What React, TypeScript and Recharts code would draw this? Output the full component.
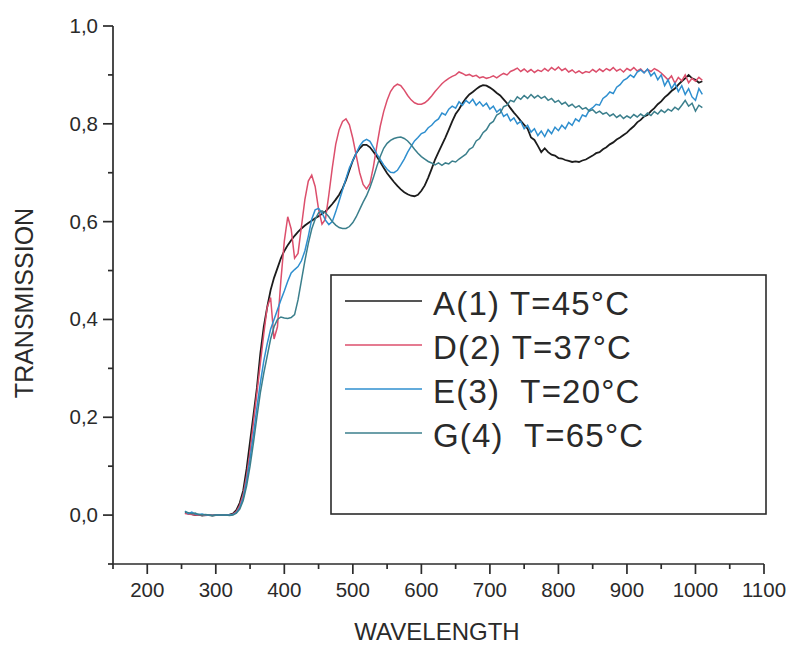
import { LineChart, Line, XAxis, YAxis, Legend } from "recharts"

// wavelength grid, 5 nm steps from 255 to 1010 nm
const wavelength = Array.from({ length: 152 }, (_, i) => 255 + i * 5)

const seriesNames = ["A(1) T=45°C", "D(2) T=37°C", "E(3)  T=20°C", "G(4)  T=65°C"]
const seriesColors = ["#1c1c1c", "#dc4f6c", "#2f8fcf", "#3b7f8c"]

const sampleA = [
  0.005, 0.003, 0.002, 0.0, 0.001, -0.001, 0.0, 0.0, -0.001, 0.0,
  0.0, 0.0, 0.0, 0.001, 0.003, 0.01, 0.025, 0.05, 0.095, 0.15,
  0.205, 0.26, 0.33, 0.385, 0.425, 0.46, 0.485, 0.505, 0.525, 0.54,
  0.552, 0.562, 0.571, 0.579, 0.586, 0.592, 0.597, 0.602, 0.607, 0.611,
  0.616, 0.621, 0.628, 0.636, 0.645, 0.655, 0.668, 0.685, 0.705, 0.725,
  0.74, 0.75, 0.757, 0.757, 0.752, 0.743, 0.733, 0.722, 0.71, 0.699,
  0.69, 0.681, 0.673, 0.666, 0.66, 0.656, 0.653, 0.652, 0.655, 0.663,
  0.674, 0.69, 0.708, 0.727, 0.742, 0.757, 0.772, 0.788, 0.805, 0.82,
  0.83, 0.842, 0.852, 0.86, 0.865, 0.871, 0.876, 0.879, 0.878, 0.874,
  0.869, 0.863, 0.858, 0.85, 0.842, 0.832, 0.823, 0.815, 0.806, 0.798,
  0.79, 0.772, 0.767, 0.755, 0.742, 0.75, 0.742, 0.737, 0.735, 0.73,
  0.729, 0.726, 0.724, 0.722, 0.723, 0.722, 0.725, 0.727, 0.731, 0.735,
  0.74, 0.742, 0.748, 0.752, 0.758, 0.762, 0.768, 0.772, 0.777, 0.782,
  0.789, 0.795, 0.803, 0.808, 0.815, 0.818, 0.826, 0.832, 0.84, 0.846,
  0.854, 0.86, 0.867, 0.872, 0.88, 0.887, 0.893, 0.9, 0.893, 0.89,
  0.884, 0.887,
]

const sampleD = [
  0.003, 0.002, 0.001, 0.0, 0.0, 0.0, -0.001, 0.0, 0.0, 0.0,
  0.0, 0.0, 0.0, 0.0, 0.002, 0.007, 0.02, 0.042, 0.08, 0.13,
  0.19, 0.25, 0.31, 0.37, 0.425, 0.445, 0.36, 0.385, 0.48, 0.56,
  0.61, 0.585, 0.525, 0.535, 0.59, 0.645, 0.683, 0.695, 0.672, 0.625,
  0.595, 0.605, 0.655, 0.71, 0.758, 0.788, 0.805, 0.81, 0.798, 0.77,
  0.735, 0.7, 0.676, 0.667, 0.678, 0.712, 0.755, 0.795, 0.825, 0.848,
  0.866, 0.876, 0.881, 0.878, 0.869, 0.858, 0.849, 0.843, 0.84, 0.84,
  0.843, 0.849, 0.857, 0.866, 0.874, 0.882, 0.888, 0.893, 0.897, 0.9,
  0.906, 0.903, 0.899, 0.901, 0.897, 0.899, 0.894, 0.896, 0.893, 0.895,
  0.898, 0.894, 0.899, 0.903, 0.9, 0.907, 0.91, 0.914, 0.907, 0.912,
  0.906, 0.911, 0.905, 0.91, 0.907, 0.913, 0.908, 0.915, 0.91, 0.916,
  0.909, 0.913, 0.906, 0.91, 0.904, 0.908, 0.903, 0.907, 0.905, 0.911,
  0.906, 0.912, 0.907, 0.913, 0.909, 0.915, 0.908, 0.912, 0.906, 0.913,
  0.909, 0.915, 0.908, 0.912, 0.905, 0.911, 0.907, 0.913, 0.909, 0.904,
  0.897, 0.89, 0.898, 0.883, 0.895, 0.888, 0.9, 0.884, 0.893, 0.887,
  0.895, 0.889,
]

const sampleE = [
  0.008, 0.003, 0.006, 0.002, 0.001, 0.002, 0.0, 0.0, -0.001, 0.0,
  0.0, 0.0, 0.0, 0.0, 0.001, 0.005, 0.015, 0.035, 0.07, 0.115,
  0.165, 0.22, 0.27, 0.315, 0.35, 0.38, 0.4, 0.42, 0.44, 0.458,
  0.478, 0.495, 0.502, 0.508, 0.52, 0.54, 0.57, 0.605, 0.624, 0.627,
  0.618, 0.603, 0.594, 0.6, 0.62, 0.642, 0.665, 0.688, 0.71, 0.725,
  0.74, 0.755, 0.764, 0.768, 0.764, 0.752, 0.738, 0.727, 0.716, 0.707,
  0.701, 0.7, 0.705, 0.716, 0.728, 0.742, 0.754, 0.765, 0.772, 0.78,
  0.783, 0.792, 0.797, 0.805, 0.81, 0.822, 0.818, 0.83, 0.836, 0.832,
  0.845, 0.838, 0.848, 0.842, 0.85, 0.838, 0.845, 0.836, 0.842, 0.83,
  0.836, 0.824, 0.83, 0.815, 0.82, 0.806, 0.812, 0.8, 0.805, 0.79,
  0.797, 0.783, 0.79, 0.776, 0.785, 0.774, 0.788, 0.78, 0.793, 0.786,
  0.797, 0.79, 0.803, 0.797, 0.81, 0.805, 0.818, 0.815, 0.828, 0.833,
  0.84, 0.838, 0.852, 0.857, 0.865, 0.862, 0.875, 0.88, 0.889, 0.893,
  0.9, 0.895, 0.906, 0.91, 0.904, 0.912, 0.898, 0.905, 0.89, 0.9,
  0.878, 0.89, 0.872, 0.883, 0.866, 0.878, 0.86, 0.872, 0.855, 0.848,
  0.872, 0.86,
]

const sampleG = [
  0.007, 0.005, 0.003, 0.004, 0.001, 0.0, 0.001, 0.0, -0.001, 0.0,
  0.0, 0.0, 0.0, -0.001, 0.0, 0.004, 0.012, 0.03, 0.06, 0.1,
  0.148, 0.2, 0.25, 0.29, 0.325, 0.36, 0.385, 0.4, 0.405, 0.403,
  0.402, 0.404, 0.41, 0.44, 0.48, 0.52, 0.555, 0.585, 0.605, 0.618,
  0.622, 0.618, 0.61, 0.6, 0.593, 0.588, 0.586, 0.586, 0.59, 0.598,
  0.61, 0.625, 0.64, 0.653, 0.67, 0.69, 0.713, 0.733, 0.75, 0.76,
  0.766, 0.77, 0.772, 0.773, 0.77, 0.765, 0.757, 0.748, 0.74, 0.733,
  0.728, 0.723, 0.72, 0.716, 0.72, 0.715, 0.72, 0.718, 0.724, 0.722,
  0.728, 0.733, 0.738, 0.748, 0.752, 0.765, 0.77, 0.782, 0.788, 0.8,
  0.805, 0.818, 0.822, 0.835, 0.838, 0.848, 0.845, 0.855, 0.85, 0.858,
  0.852, 0.86, 0.853, 0.858, 0.852, 0.856, 0.848, 0.852, 0.844, 0.848,
  0.84, 0.844, 0.836, 0.84, 0.833, 0.837, 0.83, 0.833, 0.826, 0.829,
  0.822, 0.826, 0.82, 0.823, 0.816, 0.82, 0.813, 0.818, 0.811, 0.816,
  0.812, 0.819, 0.814, 0.82, 0.815, 0.822, 0.817, 0.825, 0.82, 0.828,
  0.823, 0.83, 0.826, 0.834, 0.829, 0.838, 0.848, 0.836, 0.842, 0.826,
  0.838, 0.833,
]

const xTicks = [150, 200, 250, 300, 350, 400, 450, 500, 550, 600, 650, 700, 750, 800, 850, 900, 950, 1000, 1050, 1100]
const yTicks = [-0.1, 0, 0.1, 0.2, 0.3, 0.4, 0.5, 0.6, 0.7, 0.8, 0.9, 1.0]

const data = wavelength.map((wl, i) => ({
  wl,
  A: sampleA[i],
  D: sampleD[i],
  E: sampleE[i],
  G: sampleG[i],
}))

const FONT = "'Liberation Sans', Arial, sans-serif"
const AXIS = "#2b2b2b"
const TEXT = "#2a2a2a"

const XTick = (props: any) => {
  const { x, y, payload } = props
  const v = payload.value
  const major = v % 100 === 0
  return (
    <g>
      <line x1={x} y1={y} x2={x} y2={y + (major ? 10 : 5)} stroke={AXIS} strokeWidth={1.7} />
      {major && (
        <text x={x} y={y + 33} textAnchor="middle" fontFamily={FONT} fontSize={20.5} fill={TEXT}>
          {v}
        </text>
      )}
    </g>
  )
}

const YTick = (props: any) => {
  const { x, y, payload } = props
  const v = payload.value
  const major = Math.round(v * 10) % 2 === 0
  return (
    <g>
      <line x1={x - (major ? 10 : 5)} y1={y} x2={x} y2={y} stroke={AXIS} strokeWidth={1.7} />
      {major && (
        <text x={x - 15} y={y + 7} textAnchor="end" fontFamily={FONT} fontSize={20.5} fill={TEXT}>
          {v.toFixed(1).replace(".", ",")}
        </text>
      )}
    </g>
  )
}

const XTitle = () => (
  <text x={437} y={640} textAnchor="middle" fontFamily={FONT} fontSize={24} fill={TEXT}>
    WAVELENGTH
  </text>
)

const YTitle = () => (
  <text x={33} y={303} textAnchor="middle" fontFamily={FONT} fontSize={25} fill={TEXT} transform="rotate(-90, 33, 303)">
    TRANSMISSION
  </text>
)

const LegendBox = (props: any) => {
  const items = props.payload || []
  return (
    <svg width={437} height={241} style={{ display: "block" }}>
      <rect x={1} y={1} width={435} height={239} fill="#fff" stroke={AXIS} strokeWidth={1.6} />
      {items.map((it: any, i: number) => {
        const ly = 27 + i * 44
        return (
          <g key={i}>
            <line x1={15} x2={92} y1={ly} y2={ly} stroke={it.color} strokeWidth={1.6} />
            <text
              x={103}
              y={ly + 14}
              fontFamily={FONT}
              fontSize={33}
              letterSpacing={1.2}
              fill={TEXT}
              xmlSpace="preserve"
              style={{ whiteSpace: "pre" }}
            >
              {it.value}
            </text>
          </g>
        )
      })}
    </svg>
  )
}

export default function App() {
  const keys = ["A", "D", "E", "G"]
  return (
    <div style={{ position: "absolute", left: 0, top: 0, background: "#fff" }}>
      <LineChart width={789} height={645} data={data} margin={{ top: 26, right: 25, bottom: 0, left: 0 }}>
        <XAxis
          dataKey="wl"
          type="number"
          domain={[150, 1100]}
          ticks={xTicks}
          interval={0}
          height={81}
          tickSize={0}
          tickMargin={0}
          tick={<XTick />}
          axisLine={{ stroke: AXIS, strokeWidth: 1.7 }}
          label={<XTitle />}
        />
        <YAxis
          type="number"
          domain={[-0.1, 1.0]}
          ticks={yTicks}
          interval={0}
          width={113}
          tickSize={0}
          tickMargin={0}
          allowDataOverflow
          tick={<YTick />}
          axisLine={{ stroke: AXIS, strokeWidth: 1.7 }}
          label={<YTitle />}
        />
        <Legend
          layout="vertical"
          align="center"
          verticalAlign="middle"
          content={<LegendBox />}
          wrapperStyle={{ left: 330, top: 274, width: 437, height: 241 }}
        />
        {keys.map((k, i) => (
          <Line
            key={k}
            dataKey={k}
            name={seriesNames[i]}
            type="linear"
            stroke={seriesColors[i]}
            strokeWidth={k === "A" ? 1.8 : 1.5}
            dot={false}
            isAnimationActive={false}
          />
        ))}
      </LineChart>
    </div>
  )
}
